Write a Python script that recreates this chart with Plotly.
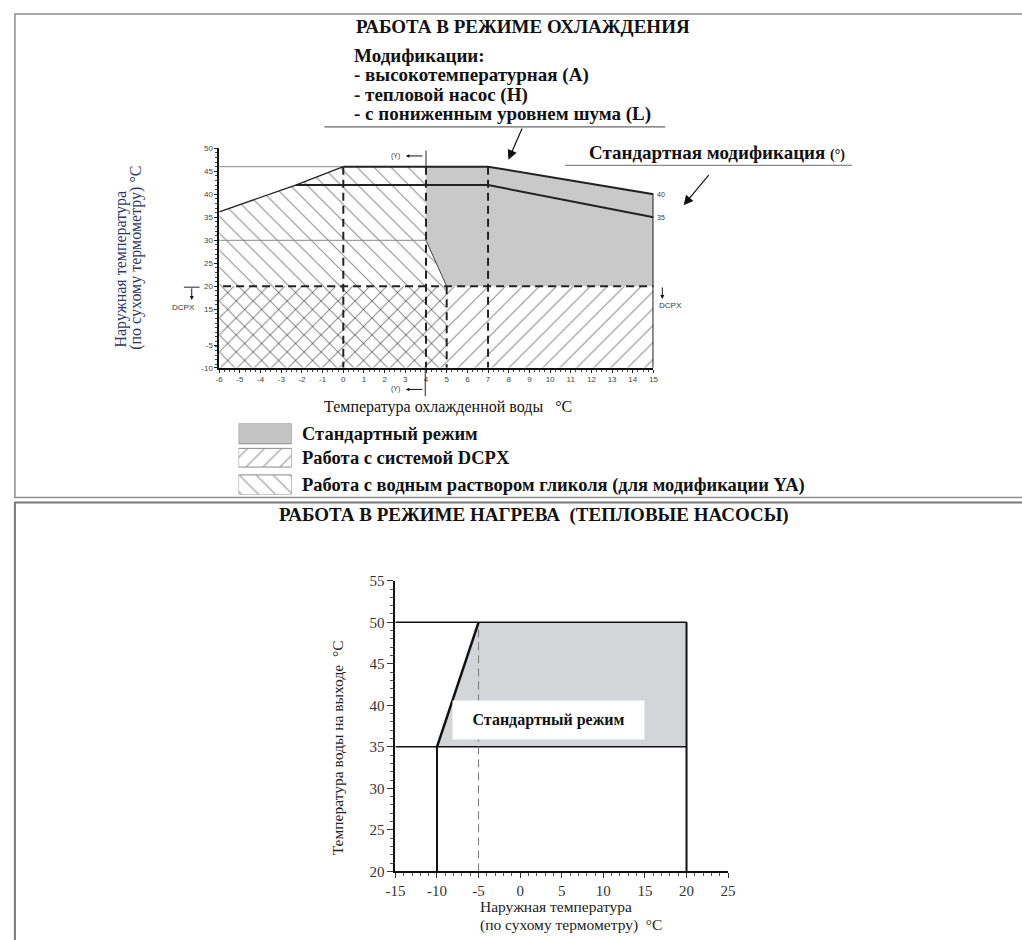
import plotly.graph_objects as go

W, H = 1022, 940
SERIF = "Liberation Serif"
SANS = "Liberation Sans"

# ---------------- data: cooling mode ----------------
cool_x_ticks = list(range(-6, 16))
cool_x_ticktext = [str(v) for v in cool_x_ticks]
cool_y_ticks = [50, 45, 40, 35, 30, 25, 20, 15, -5, -10]
cool_y_ticktext = [str(v) for v in cool_y_ticks]

standard_x = [4, 7, 15, 15, 5, 4]
standard_y = [46, 46, 40, 20, 20, 30]
dcpx_x = [-6, 15, 15, -6]
dcpx_y = [-10, -10, 20, 20]
glycol_x = [-6, -6, -2.3, 0, 4, 4, 5, 5]
glycol_y = [-10, 36.2, 42, 46, 46, 30, 20, -10]
upper_x = [0, 7, 15, 15]
upper_y = [46, 46, 40, -10]
lower_x = [-2.3, 7, 15]
lower_y = [42, 42, 35]
envelope_x = [-6, -2.3, 0]
envelope_y = [36.2, 42, 46]
slant_x = [4, 5]
slant_y = [30, 20]
ref46_x = [-6, 0]
ref30_x = [-6, 4]
dash_x = [0, 4, 5, 7]
dash_top = [46, 46, 20, 46]
dcpx_level = 20
dcpx_span = [-7.7, 15.8]
y_bottom = -10
end_labels = [40, 35]

# ---------------- data: heating mode ----------------
heat_x_ticks = [-15, -10, -5, 0, 5, 10, 15, 20, 25]
heat_x_ticktext = [str(v) for v in heat_x_ticks]
heat_y_ticks = [20, 25, 30, 35, 40, 45, 50, 55]
heat_y_ticktext = [str(v) for v in heat_y_ticks]
heat_x = [-10, -5, 20, 20]
heat_y = [35, 50, 50, 35]
heat_tmin, heat_tmax = 35, 50
heat_xmin, heat_xmax = -10, 20
heat_dash = -5
heat_axis_x0 = -15
heat_axis_y0 = 20

legend_items = ["Стандартный режим", "Работа с системой DCPX",
                "Работа с водным раствором гликоля (для модификации YA)"]
modifications = ["Модификации:", "- высокотемпературная (А)", "- тепловой насос (H)",
                 "- с пониженным уровнем шума (L)"]


# broken y-axis of the cooling chart (15 .. -5 compressed)
def ypos(t):
    if t >= 15:
        return t
    if t >= -5:
        return 15 + (t - 15) * (15 - 7.16) / 20
    return 7.16 + (t + 5) * (7.16 - 2.3) / 5


def Y(lst):
    return [ypos(v) for v in lst]


def px(x):
    return x / W


def py(y):
    return 1 - y / H


fig = go.Figure()
NOHOV = dict(hoverinfo="skip", showlegend=False)
HATCH = dict(size=12, solidity=0.1, fgcolor="#2a2a2a", bgcolor="rgba(0,0,0,0)")

# ---- cooling chart traces ----
fig.add_trace(go.Scatter(x=dcpx_x, y=Y(dcpx_y), fill="toself", mode="lines",
                         line=dict(width=0, color="rgba(0,0,0,0)"),
                         fillcolor="rgba(0,0,0,0)", fillpattern=dict(shape="/", **HATCH),
                         xaxis="x", yaxis="y", **NOHOV))
fig.add_trace(go.Scatter(x=glycol_x, y=Y(glycol_y), fill="toself", mode="lines",
                         line=dict(width=0, color="rgba(0,0,0,0)"),
                         fillcolor="rgba(0,0,0,0)", fillpattern=dict(shape="\\", **HATCH),
                         xaxis="x", yaxis="y", **NOHOV))
fig.add_trace(go.Scatter(x=standard_x, y=Y(standard_y), fill="toself", mode="lines",
                         line=dict(width=0), fillcolor="#c9c9c9",
                         xaxis="x", yaxis="y", **NOHOV))

fig.add_trace(go.Scatter(x=ref46_x, y=Y([46, 46]), mode="lines",
                         line=dict(color="#888", width=1), xaxis="x", yaxis="y", **NOHOV))
fig.add_trace(go.Scatter(x=ref30_x, y=Y([30, 30]), mode="lines",
                         line=dict(color="#888", width=1), xaxis="x", yaxis="y", **NOHOV))
fig.add_trace(go.Scatter(x=envelope_x, y=Y(envelope_y), mode="lines",
                         line=dict(color="#222", width=1.3), xaxis="x", yaxis="y", **NOHOV))
fig.add_trace(go.Scatter(x=slant_x, y=Y(slant_y), mode="lines",
                         line=dict(color="#444", width=1), xaxis="x", yaxis="y", **NOHOV))
fig.add_trace(go.Scatter(x=upper_x, y=Y(upper_y), mode="lines",
                         line=dict(color="#222", width=2), xaxis="x", yaxis="y", **NOHOV))
fig.add_trace(go.Scatter(x=lower_x, y=Y(lower_y), mode="lines",
                         line=dict(color="#222", width=2), xaxis="x", yaxis="y", **NOHOV))
for xv, top in zip(dash_x, dash_top):
    fig.add_trace(go.Scatter(x=[xv, xv], y=Y([top, y_bottom]), mode="lines",
                             line=dict(color="#222", width=2, dash="8px,5px"),
                             xaxis="x", yaxis="y", **NOHOV))
fig.add_trace(go.Scatter(x=dcpx_span, y=Y([dcpx_level, dcpx_level]), mode="lines",
                         line=dict(color="#222", width=2, dash="8px,5px"),
                         xaxis="x", yaxis="y", cliponaxis=False, **NOHOV))
fig.add_trace(go.Scatter(x=[4, 4], y=Y([46, 49.5]), mode="lines",
                         line=dict(color="#222", width=1), xaxis="x", yaxis="y",
                         cliponaxis=False, **NOHOV))

# ---- heating chart traces ----
fig.add_trace(go.Scatter(x=heat_x, y=heat_y, fill="toself", mode="lines",
                         line=dict(width=0), fillcolor="#d3d5d8",
                         xaxis="x2", yaxis="y2", **NOHOV))
fig.add_trace(go.Scatter(x=[heat_axis_x0, heat_xmax], y=[heat_tmax, heat_tmax], mode="lines",
                         line=dict(color="#111", width=1.5), xaxis="x2", yaxis="y2", **NOHOV))
fig.add_trace(go.Scatter(x=[heat_axis_x0, heat_xmax], y=[heat_tmin, heat_tmin], mode="lines",
                         line=dict(color="#111", width=1.5), xaxis="x2", yaxis="y2", **NOHOV))
fig.add_trace(go.Scatter(x=[heat_dash, heat_dash], y=[heat_axis_y0, heat_tmax], mode="lines",
                         line=dict(color="#777", width=1, dash="8px,5px"),
                         xaxis="x2", yaxis="y2", **NOHOV))
fig.add_trace(go.Scatter(x=heat_x[:2], y=heat_y[:2], mode="lines",
                         line=dict(color="#111", width=2.5), xaxis="x2", yaxis="y2", **NOHOV))
fig.add_trace(go.Scatter(x=[heat_xmin, heat_xmin], y=[heat_axis_y0, heat_tmin], mode="lines",
                         line=dict(color="#111", width=2), xaxis="x2", yaxis="y2", **NOHOV))
fig.add_trace(go.Scatter(x=[heat_xmax, heat_xmax], y=[heat_axis_y0, heat_tmax], mode="lines",
                         line=dict(color="#111", width=2), xaxis="x2", yaxis="y2", **NOHOV))

# ---- legend swatches (own axes) ----
sw_rows = [(0.715, 1.0), (0.387, 0.65), (0.0, 0.277)]
sw_styles = [dict(fillcolor="#c4c4c4"),
             dict(fillcolor="rgba(0,0,0,0)", fillpattern=dict(shape="/", **HATCH)),
             dict(fillcolor="rgba(0,0,0,0)", fillpattern=dict(shape="\\", **HATCH))]
for (y0, y1), st in zip(sw_rows, sw_styles):
    fig.add_trace(go.Scatter(x=[0, 1, 1, 0, 0], y=[y0, y0, y1, y1, y0], fill="toself",
                             mode="lines", line=dict(color="#8a8a8a", width=1),
                             xaxis="x3", yaxis="y3", **st, **NOHOV))

# ---------------- annotations ----------------
ann = []


def text(x, y, s, size, bold=False, xanchor="left", color="#111", angle=0,
         family=SERIF, yanchor="middle"):
    if bold:
        s = "<b>" + s + "</b>"
    ann.append(dict(x=px(x), y=py(y), xref="paper", yref="paper", text=s,
                    showarrow=False, xanchor=xanchor, yanchor=yanchor, textangle=angle,
                    font=dict(family=family, size=size, color=color)))


text(522, 19, "РАБОТА В РЕЖИМЕ ОХЛАЖДЕНИЯ", 19, True, "center")
for i, s in enumerate(modifications):
    text(348, 48 + 20 * i, s, 19, True)
text(587, 147, "Стандартная модификация <span style='font-size:14px'>(°)</span>", 19, True)
text(318, 406, "Температура охлажденной воды\u00a0\u00a0\u00a0°C", 16, False, "left")
text(113, 348, "Наружная температура", 16, False, "center", "#2b3768", -90, yanchor="bottom")
text(128, 350, "(по сухому термометру) °C", 16, False, "center", "#2b3768", -90, yanchor="bottom")
for i, s in enumerate(legend_items):
    text(295, [433, 458, 486][i], s, 18.5, True)
text(533, 516, "РАБОТА В РЕЖИМЕ НАГРЕВА\u00a0\u00a0(ТЕПЛОВЫЕ НАСОСЫ)", 19, True, "center")
text(333, 753, "Температура воды на выходе\u00a0\u00a0°C", 15.5, False, "center", "#222", -90)
text(476, 914, "Наружная температура", 15.5, False, "left", "#222")
text(476, 933, "(по сухому термометру)\u00a0\u00a0°C", 15.5, False, "left", "#222")
text(177, 305, "DCPX", 8, False, "center", "#333", family=SANS)
text(672, 303, "DCPX", 8, False, "center", "#333", family=SANS)
text(392, 150.5, "(Y)", 7, False, "center", "#333", family=SANS)
text(392, 388, "(Y)", 7, False, "center", "#333", family=SANS)

for v in end_labels:
    ann.append(dict(x=15, y=ypos(v), xref="x", yref="y", text=str(v), showarrow=False,
                    xanchor="left", xshift=2, font=dict(family=SANS, size=7, color="#333")))

ann.append(dict(x=3.4, y=38.25, xref="x2", yref="y2", text="<b>Стандартный режим</b>",
                showarrow=False, bgcolor="white", width=189, height=36,
                font=dict(family=SERIF, size=16, color="#111")))


def arrow(hx, hy, tx, ty, size=1.2, width=1, head=2):
    ann.append(dict(x=px(hx), y=py(hy), xref="paper", yref="paper", ax=tx - hx, ay=ty - hy,
                    axref="pixel", ayref="pixel", text="", showarrow=True, arrowhead=head,
                    arrowsize=size, arrowwidth=width, arrowcolor="#111"))


arrow(507.3, 154.3, 521.7, 121.7, 1.6, 1.2)
arrow(685.7, 200.7, 712, 169, 1.6, 1.2)
arrow(185, 297, 185, 284, 0.8, 1)
arrow(664, 296, 664, 283, 0.8, 1)
arrow(403, 150.5, 421, 150.5, 0.7, 1)
arrow(403, 388, 421, 388, 0.7, 1)

# ---------------- shapes ----------------
shapes = []


def pline(x0, y0, x1, y1, color="#111", width=1):
    shapes.append(dict(type="line", xref="paper", yref="paper", x0=px(x0), y0=py(y0),
                       x1=px(x1), y1=py(y1), line=dict(color=color, width=width)))


shapes.append(dict(type="rect", xref="paper", yref="paper", x0=px(5), x1=1.02, y0=py(498),
                   y1=py(6), line=dict(color="#8c8c8c", width=1.5)))
shapes.append(dict(type="rect", xref="paper", yref="paper", x0=px(5), x1=1.02, y0=-0.05,
                   y1=py(503), line=dict(color="#7a7a7a", width=2)))
pline(320, 121, 667, 121, "#666", 1.2)
pline(565, 160, 857, 160, "#888", 1.2)
pline(177, 284, 193, 284, "#222", 1)
pline(422.7, 368, 422.7, 395, "#222", 1)

layout = dict(
    width=W, height=H, margin=dict(l=0, r=0, t=0, b=0), autosize=False,
    paper_bgcolor="white", plot_bgcolor="rgba(0,0,0,0)",
    showlegend=False, annotations=ann, shapes=shapes,
    xaxis=dict(domain=[px(213), px(655)], range=[-6, 15], anchor="y",
               tickmode="array", tickvals=cool_x_ticks, ticktext=cool_x_ticktext,
               ticks="outside", ticklen=3, tickcolor="#222", showgrid=False, zeroline=False,
               showline=True, linecolor="#111", linewidth=1.5,
               tickfont=dict(family=SANS, size=8, color="#444"),
               minor=dict(ticks="outside", ticklen=2, tickmode="linear", tick0=0, dtick=0.25,
                          tickcolor="#444", showgrid=False)),
    yaxis=dict(domain=[py(366), py(142.7)], range=[ypos(-10), 50], anchor="x",
               tickmode="array", tickvals=Y(cool_y_ticks), ticktext=cool_y_ticktext,
               ticks="outside", ticklen=3, tickcolor="#222", showgrid=False, zeroline=False,
               showline=True, linecolor="#111", linewidth=1.5,
               tickfont=dict(family=SANS, size=8, color="#444"),
               minor=dict(ticks="outside", ticklen=2, tickmode="linear", tick0=0, dtick=1,
                          tickcolor="#444", showgrid=False)),
    xaxis2=dict(domain=[px(392.3), px(731)], range=[-15, 25], anchor="y2",
                tickmode="array", tickvals=heat_x_ticks, ticktext=heat_x_ticktext,
                ticks="outside", ticklen=5, tickcolor="#333", showgrid=False, zeroline=False,
                showline=True, linecolor="#111", linewidth=2,
                tickfont=dict(family=SERIF, size=15, color="#333"),
                minor=dict(ticks="outside", ticklen=3, tickmode="linear", tick0=0, dtick=1,
                           tickcolor="#555", showgrid=False)),
    yaxis2=dict(domain=[py(878.3), py(582.7)], range=[20, 55], anchor="x2",
                tickmode="array", tickvals=heat_y_ticks, ticktext=heat_y_ticktext,
                ticks="outside", ticklen=6, tickcolor="#333", showgrid=False, zeroline=False,
                showline=True, linecolor="#111", linewidth=2,
                tickfont=dict(family=SERIF, size=15, color="#333"),
                minor=dict(ticks="outside", ticklen=3, tickmode="linear", tick0=0, dtick=1,
                           tickcolor="#555", showgrid=False)),
    xaxis3=dict(domain=[px(232.7), px(286.7)], range=[0, 1], anchor="y3", visible=False),
    yaxis3=dict(domain=[py(495), py(422.7)], range=[0, 1], anchor="x3", visible=False),
)
fig.update_layout(**layout)
fig.write_html("out.html", config={"displayModeBar": False},
               post_script="document.body.style.margin='0';"
                           "document.body.style.overflow='hidden';")
